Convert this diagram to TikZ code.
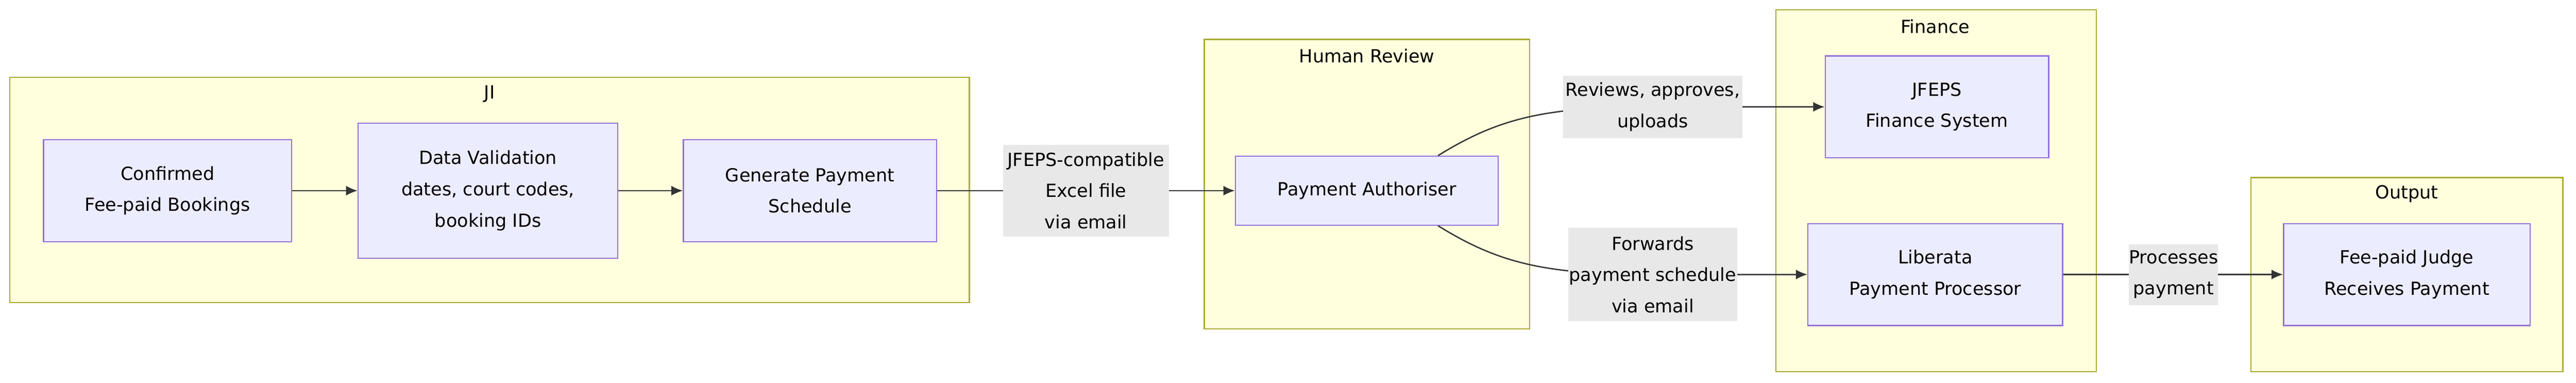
\documentclass[tikz,border=0pt]{standalone}
\usepackage{fontspec}
\setmainfont{DejaVu Sans}
\usetikzlibrary{arrows.meta}
\begin{document}
\begin{tikzpicture}[x=1pt,y=-1pt,
  font=\fontsize{11}{19}\selectfont,
  cl/.style={draw=#1!0!black,fill=#1!0!white},
  cluster/.style={draw={rgb,255:red,170;green,170;blue,51},fill={rgb,255:red,255;green,255;blue,222},line width=0.7pt},
  box/.style={draw={rgb,255:red,147;green,112;blue,219},fill={rgb,255:red,236;green,236;blue,255},line width=0.7pt,align=center,inner sep=0pt},
  lbl/.style={fill={rgb,255:red,232;green,232;blue,232},align=center,inner sep=0pt},
  arr/.style={draw={rgb,255:red,51;green,51;blue,51},line width=0.8pt,-{Latex[length=7pt,width=6pt]}}]
\useasboundingbox (0,0) rectangle (1568,233);
% clusters
\draw[cluster] (6,47) rectangle (590,184); \node (cJI) at (298,57) {JI};
\draw[cluster] (733,24) rectangle (931,200); \node (cHR) at (832,34) {Human Review};
\draw[cluster] (1081,6) rectangle (1276,226); \node (cF) at (1178,16) {Finance};
\draw[cluster] (1370,108) rectangle (1560,226); \node (cO) at (1465,118) {Output};
% nodes
\node[box,minimum width=151,minimum height=62] (a) at (102,116) {Confirmed\\Fee-paid Bookings};
\node[box,minimum width=158,minimum height=82] (b) at (297,116) {Data Validation\\dates, court codes,\\booking IDs};
\node[box,minimum width=154,minimum height=62] (c) at (493,116) {Generate Payment\\Schedule};
\node[box,minimum width=160,minimum height=42] (d) at (832,116) {Payment Authoriser};
\node[box,minimum width=136,minimum height=62] (e) at (1179,65) {JFEPS\\Finance System};
\node[box,minimum width=155,minimum height=62] (f) at (1178,167) {Liberata\\Payment Processor};
\node[box,minimum width=150,minimum height=62] (g) at (1465,167) {Fee-paid Judge\\Receives Payment};
% edges
\draw[arr] (a) -- (b);
\draw[arr] (b) -- (c);
\draw[arr] (c) -- (d);
\node[lbl,minimum width=101,minimum height=56] (l1) at (661,116) {JFEPS-compatible\\Excel file\\via email};
\coordinate (p1) at (1006,65);
\coordinate (p2) at (1006,167);
\draw[arr] (d.north east) ++(-37,0) .. controls (912,72) and (940,65) .. (p1) -- (e.west);
\draw[arr] (d.south east) ++(-37,0) .. controls (912,160) and (940,167) .. (p2) -- (f.west);
\node[lbl,minimum width=109,minimum height=38] (l2) at (1006,65) {Reviews, approves,\\uploads};
\node[lbl,minimum width=103,minimum height=57] (l3) at (1006,167) {Forwards\\payment schedule\\via email};
\draw[arr] (f) -- (g);
\node[lbl,minimum width=54,minimum height=37] (l4) at (1323,167) {Processes\\payment};
\end{tikzpicture}
\end{document}
